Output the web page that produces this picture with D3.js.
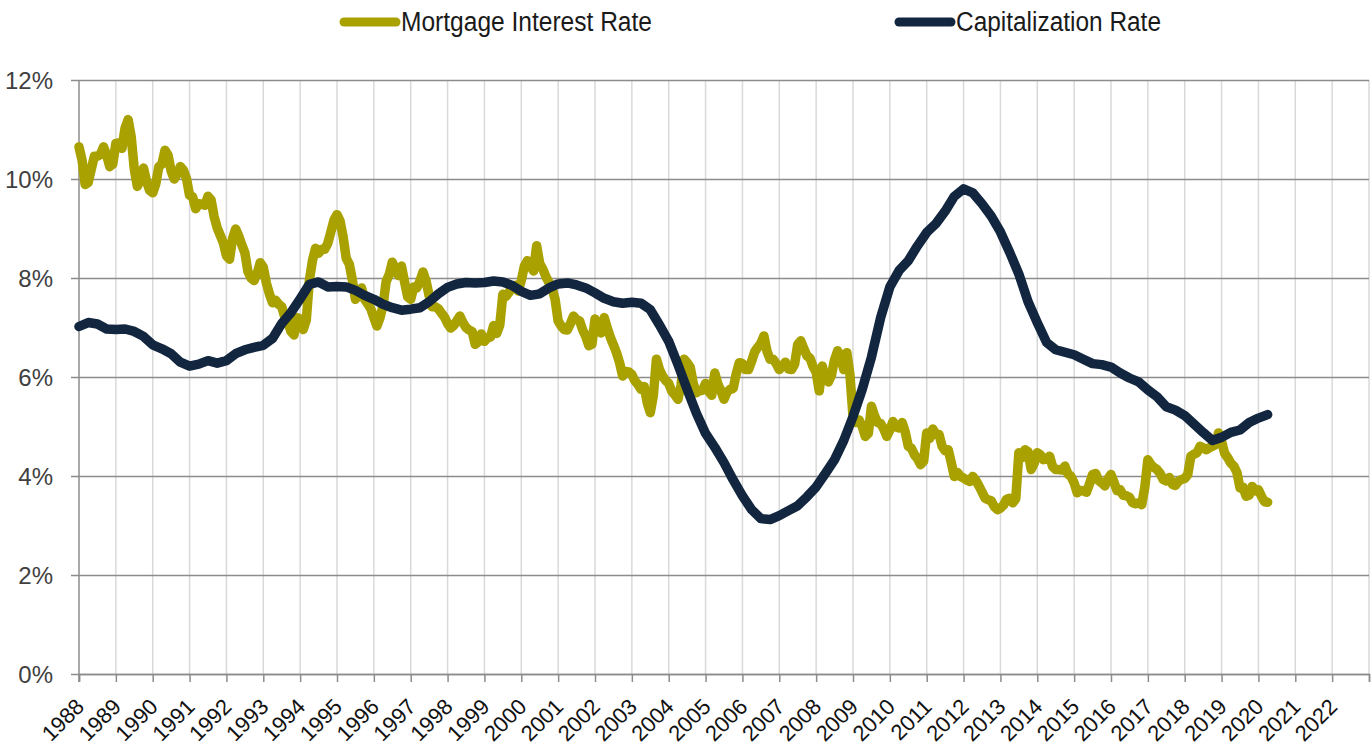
<!DOCTYPE html>
<html>
<head>
<meta charset="utf-8">
<script src="https://cdn.jsdelivr.net/npm/d3@7"></script>
<style>
    body { margin: 0; background: #fff; }
    svg { display: block; }
    .ylab { font-family: "Liberation Sans", Arial, sans-serif; font-size: 24px; fill: #404040; }
    .xlab { font-family: "Liberation Sans", Arial, sans-serif; font-size: 22px; fill: #111; }
    .legend text { font-family: "Liberation Sans", Arial, sans-serif; font-size: 27px; fill: #1a1a1a; }
</style>
</head>
<body>
<div id="chart"></div>
<script>
// year categories on the x axis
var years = d3.range(1988, 2023);
var yTicks = [0, 2, 4, 6, 8, 10, 12];

// 30-year mortgage rate, monthly, first value sits on the 1988 tick (Dec 1987)
var mortgageRate = [
    10.65,
    10.38, 9.89, 9.93, 10.20, 10.46, 10.46, 10.50, 10.65, 10.48, 10.25, 10.30, 10.72,
    10.73, 10.62, 11.03, 11.20, 10.85, 10.20, 9.85, 9.99, 10.22, 9.95, 9.77, 9.72,
    9.90, 10.25, 10.30, 10.58, 10.48, 10.16, 10.00, 10.10, 10.25, 10.18, 10.01, 9.67,
    9.64, 9.40, 9.50, 9.49, 9.47, 9.65, 9.58, 9.24, 9.01, 8.86, 8.71, 8.45,
    8.38, 8.80, 8.99, 8.85, 8.67, 8.51, 8.13, 8.00, 7.95, 8.09, 8.31, 8.22,
    7.90, 7.68, 7.50, 7.55, 7.47, 7.42, 7.21, 7.11, 6.92, 6.85, 7.20, 7.17,
    6.96, 7.15, 7.95, 8.35, 8.60, 8.50, 8.58, 8.58, 8.70, 8.93, 9.17, 9.28,
    9.15, 8.83, 8.40, 8.28, 7.96, 7.57, 7.67, 7.80, 7.57, 7.48, 7.38, 7.20,
    7.03, 7.20, 7.44, 7.93, 8.07, 8.32, 8.18, 8.05, 8.24, 7.92, 7.62, 7.57,
    7.82, 7.80, 7.94, 8.12, 7.94, 7.64, 7.42, 7.42, 7.38, 7.29, 7.21, 7.08,
    6.99, 7.04, 7.13, 7.23, 7.10, 7.00, 6.95, 6.92, 6.66, 6.71, 6.87, 6.72,
    6.79, 6.81, 7.04, 6.88, 7.05, 7.67, 7.63, 7.71, 7.82, 7.85, 7.74, 7.95,
    8.24, 8.35, 8.24, 8.14, 8.65, 8.29, 8.18, 8.03, 7.91, 7.80, 7.57, 7.13,
    7.03, 6.96, 6.95, 7.08, 7.23, 7.16, 7.13, 6.95, 6.82, 6.63, 6.66, 7.17,
    7.00, 6.89, 7.20, 6.99, 6.80, 6.65, 6.49, 6.29, 6.02, 6.11, 6.10, 6.05,
    5.92, 5.85, 5.75, 5.81, 5.48, 5.28, 5.63, 6.36, 6.15, 6.02, 5.93, 5.87,
    5.71, 5.64, 5.55, 5.83, 6.36, 6.29, 6.20, 5.87, 5.68, 5.72, 5.73, 5.87,
    5.71, 5.63, 6.08, 5.86, 5.72, 5.55, 5.70, 5.75, 5.77, 6.07, 6.29, 6.27,
    6.15, 6.15, 6.32, 6.51, 6.60, 6.68, 6.83, 6.52, 6.36, 6.36, 6.27, 6.15,
    6.22, 6.30, 6.16, 6.15, 6.26, 6.66, 6.73, 6.57, 6.43, 6.38, 6.21, 6.10,
    5.72, 6.22, 5.97, 5.90, 6.04, 6.35, 6.53, 6.40, 6.15, 6.49, 6.05, 5.21,
    5.08, 5.13, 5.00, 4.80, 4.86, 5.41, 5.22, 5.08, 5.06, 4.95, 4.80, 4.93,
    5.10, 4.99, 4.97, 5.08, 4.89, 4.60, 4.56, 4.43, 4.35, 4.23, 4.30, 4.87,
    4.76, 4.95, 4.84, 4.84, 4.60, 4.51, 4.53, 4.27, 3.99, 4.07, 3.99, 3.96,
    3.92, 3.89, 3.99, 3.91, 3.80, 3.68, 3.55, 3.52, 3.50, 3.38, 3.32, 3.35,
    3.41, 3.53, 3.55, 3.46, 3.54, 4.47, 4.37, 4.53, 4.49, 4.13, 4.26, 4.47,
    4.43, 4.33, 4.34, 4.40, 4.19, 4.13, 4.13, 4.12, 4.20, 4.04, 3.99, 3.86,
    3.66, 3.71, 3.70, 3.67, 3.84, 4.03, 4.05, 3.91, 3.86, 3.80, 3.94, 4.03,
    3.87, 3.70, 3.72, 3.61, 3.60, 3.57, 3.46, 3.44, 3.46, 3.42, 3.77, 4.33,
    4.23, 4.17, 4.13, 4.05, 3.93, 3.90, 3.97, 3.83, 3.81, 3.90, 3.93, 3.95,
    4.03, 4.40, 4.44, 4.47, 4.60, 4.57, 4.53, 4.57, 4.60, 4.63, 4.87, 4.70,
    4.46, 4.37, 4.26, 4.20, 4.07, 3.76, 3.77, 3.59, 3.61, 3.79, 3.70, 3.72,
    3.59, 3.48, 3.47
];

// capitalization rate, quarterly from the 1988 tick
var capRate = [
    7.02, 7.10, 7.07, 6.97, 6.96, 6.97, 6.92, 6.82,
    6.65, 6.57, 6.47, 6.30, 6.22, 6.26, 6.33, 6.28,
    6.33, 6.47, 6.55, 6.60, 6.64, 6.78, 7.08, 7.30,
    7.58, 7.87, 7.92, 7.82, 7.83, 7.82, 7.75, 7.65,
    7.57, 7.47, 7.40, 7.35, 7.37, 7.40, 7.52, 7.68,
    7.81, 7.88, 7.91, 7.90, 7.91, 7.94, 7.92, 7.85,
    7.73, 7.65, 7.68, 7.80, 7.88, 7.90, 7.86, 7.80,
    7.70, 7.59, 7.52, 7.49, 7.51, 7.49, 7.36, 7.05,
    6.72, 6.25, 5.75, 5.27, 4.86, 4.58, 4.27, 3.92,
    3.60, 3.32, 3.14, 3.12, 3.20, 3.30, 3.40, 3.58,
    3.78, 4.05, 4.33, 4.72, 5.20, 5.75, 6.40, 7.20,
    7.82, 8.15, 8.35, 8.65, 8.92, 9.10, 9.35, 9.65,
    9.80, 9.72, 9.50, 9.25, 8.93, 8.52, 8.08, 7.52,
    7.10, 6.70, 6.55, 6.50, 6.45, 6.36, 6.27, 6.25,
    6.20, 6.08, 5.98, 5.90, 5.74, 5.60, 5.40, 5.33,
    5.22, 5.05, 4.88, 4.72, 4.78, 4.88, 4.93, 5.08,
    5.17, 5.24
];

var seriesNames = ["Mortgage Interest Rate", "Capitalization Rate"];
var seriesColors = ["#a8a100", "#12263f"];

var svg = d3.select("#chart")
    .append("svg")
    .attr("width", 1372)
    .attr("height", 751);

var margin = { top: 80, right: 3, bottom: 77, left: 79 },
    width = 1372 - margin.left - margin.right,
    height = 751 - margin.top - margin.bottom;

var x = d3.scaleLinear()
    .domain([1988, 2023])
    .range([0, width]);

var y = d3.scaleLinear()
    .domain([0, 12])
    .range([height, 0]);

var g = svg.append("g")
    .attr("transform", "translate(" + margin.left + "," + margin.top + ")");

// vertical gridlines at each year
g.append("g")
    .selectAll("line")
    .data(d3.range(1989, 2024))
    .enter().append("line")
    .attr("x1", function (d) { return x(d); })
    .attr("x2", function (d) { return x(d); })
    .attr("y1", 0)
    .attr("y2", height)
    .style("stroke", "#d9d9d9")
    .style("stroke-width", 1.5);

// horizontal gridlines + y labels
var yAxis = d3.axisLeft(y)
    .tickValues(yTicks)
    .tickSize(-width)
    .tickPadding(26)
    .tickFormat(function (d) { return d + "%"; });

var gy = g.append("g").attr("class", "axis axis--y").call(yAxis);
gy.select(".domain").remove();
gy.selectAll(".tick line")
    .attr("x1", -8)
    .style("stroke", "#8c8c8c")
    .style("stroke-width", 1.5);
gy.selectAll(".tick text")
    .attr("class", "ylab")
    .attr("font-family", null)
    .attr("font-size", null)
    .attr("dy", "0.36em");

// y axis line
g.append("line")
    .attr("x1", 0).attr("x2", 0)
    .attr("y1", 0).attr("y2", height + 8)
    .style("stroke", "#8c8c8c")
    .style("stroke-width", 1.5);

// x axis
var xAxis = d3.axisBottom(x)
    .tickValues(d3.range(1988, 2024))
    .tickSize(8)
    .tickFormat(function (d) { return years.indexOf(d) >= 0 ? d : ""; });

var gx = g.append("g")
    .attr("class", "axis axis--x")
    .attr("transform", "translate(0," + height + ")")
    .call(xAxis);
gx.select(".domain")
    .style("stroke", "#8c8c8c")
    .style("stroke-width", 1.5);
gx.selectAll(".tick line")
    .style("stroke", "#8c8c8c")
    .style("stroke-width", 1.5);
gx.selectAll(".tick text")
    .attr("class", "xlab")
    .attr("font-family", null)
    .attr("font-size", null)
    .attr("x", 0)
    .attr("y", 0)
    .attr("dy", 0)
    .attr("text-anchor", "end")
    .attr("transform", "translate(6,34) rotate(-45)");

var line = d3.line()
    .x(function (d) { return x(d.t); })
    .y(function (d) { return y(d.v); });

var mortgage = mortgageRate.map(function (v, i) { return { t: 1988 + i / 12, v: v }; });
var cap = capRate.map(function (v, i) { return { t: 1988 + i / 4, v: v }; });

[mortgage, cap].forEach(function (values, i) {
    g.append("path")
        .datum(values)
        .attr("d", line)
        .style("fill", "none")
        .style("stroke", seriesColors[i])
        .style("stroke-width", 9.5)
        .style("stroke-linejoin", "round")
        .style("stroke-linecap", "round");
});

// legend
var legendX = [344, 899];
var legendW = [251, 205];
var legend = svg.append("g").attr("class", "legend");
seriesNames.forEach(function (name, i) {
    legend.append("line")
        .attr("x1", legendX[i]).attr("x2", legendX[i] + 52)
        .attr("y1", 22).attr("y2", 22)
        .style("stroke", seriesColors[i])
        .style("stroke-width", 9)
        .style("stroke-linecap", "round");
    legend.append("text")
        .attr("x", legendX[i] + 57)
        .attr("y", 31)
        .attr("textLength", legendW[i])
        .attr("lengthAdjust", "spacingAndGlyphs")
        .text(name);
});
</script>
</body>
</html>
